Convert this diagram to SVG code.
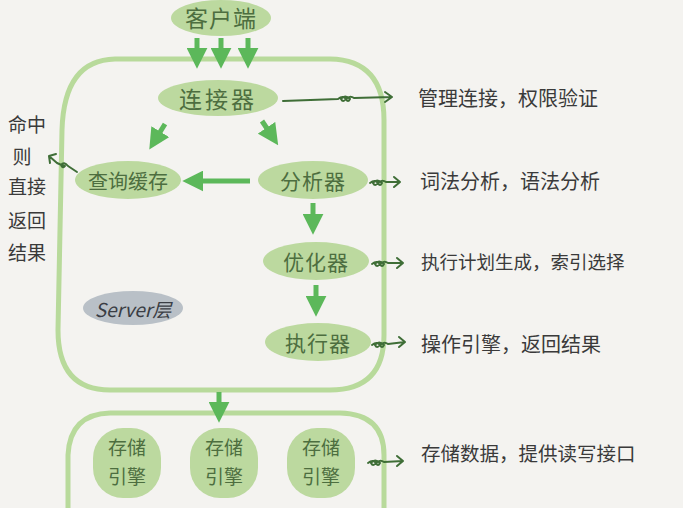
<svg xmlns="http://www.w3.org/2000/svg" width="683" height="508" viewBox="0 0 683 508">
<defs>
<style>
.node{fill:#bcd99f;}
.ntxt{font-family:"Noto Sans CJK SC","Noto Sans",sans-serif;fill:#4d6e3f;text-anchor:middle;dominant-baseline:central;}
.lbl{font-family:"Noto Sans CJK SC","Noto Sans",sans-serif;fill:#3a3a3a;font-size:20px;dominant-baseline:central;}
.frame{fill:none;stroke:#b8da9b;stroke-width:5;stroke-linejoin:round;}
.arr{stroke:#5cb85a;stroke-width:5;fill:none;marker-end:url(#ah);}
.sq{stroke:#3f6e37;stroke-width:2;fill:none;stroke-linecap:round;stroke-linejoin:round;}
</style>
<marker id="ah" viewBox="0 0 10 10" refX="3" refY="5" markerWidth="4.2" markerHeight="4.2" orient="auto" markerUnits="strokeWidth">
<path d="M0,0 L10,5 L0,10 Z" fill="#5cb85a"/>
</marker>
</defs>
<rect width="683" height="508" fill="#f4f3f0"/>

<g id="server-frame">
<path class="frame" d="M115,59 L330,59 Q384,60 384,120 L384,335 Q384,390 330,390 L110,390 Q58,390 58,330 L62,130 Q64,60 115,59 Z"/>
</g>
<g id="storage-frame">
<path class="frame" d="M110,413 L340,413 Q384,414 384,455 L384,520 M68,520 L68,455 Q70,414 110,413"/>
</g>

<g id="client"><ellipse class="node" cx="221" cy="18" rx="50" ry="18"/><text class="ntxt" x="221" y="17" font-size="23" letter-spacing="1">客户端</text></g>
<g id="connector"><ellipse class="node" cx="218" cy="98" rx="60" ry="18"/><text class="ntxt" x="218" y="98" font-size="23" letter-spacing="3">连接器</text></g>
<g id="cache"><ellipse class="node" cx="128" cy="180" rx="53" ry="19"/><text class="ntxt" x="128" y="180" font-size="20">查询缓存</text></g>
<g id="parser"><ellipse class="node" cx="313" cy="180" rx="55" ry="19"/><text class="ntxt" x="313" y="180" font-size="21" letter-spacing="1">分析器</text></g>
<g id="optimizer"><ellipse class="node" cx="316" cy="261" rx="53" ry="19"/><text class="ntxt" x="316" y="261" font-size="21" letter-spacing="1">优化器</text></g>
<g id="executor"><ellipse class="node" cx="318" cy="342" rx="53" ry="19"/><text class="ntxt" x="318" y="342" font-size="21" letter-spacing="1">执行器</text></g>
<g id="server-layer"><ellipse cx="133" cy="308" rx="50" ry="17" fill="#b9c0c7"/><text x="133" y="308" font-family="'Noto Sans CJK SC','Noto Sans',sans-serif" font-size="19" fill="#3a3d44" text-anchor="middle" dominant-baseline="central" font-style="italic">Server层</text></g>

<g id="engine1"><rect class="node" x="93" y="428" width="68" height="70" rx="30"/><text class="ntxt" x="127" y="446" font-size="19">存储</text><text class="ntxt" x="127" y="475" font-size="19">引擎</text></g>
<g id="engine2"><rect class="node" x="190" y="428" width="68" height="70" rx="30"/><text class="ntxt" x="224" y="446" font-size="19">存储</text><text class="ntxt" x="224" y="475" font-size="19">引擎</text></g>
<g id="engine3"><rect class="node" x="287" y="428" width="68" height="70" rx="30"/><text class="ntxt" x="321" y="446" font-size="19">存储</text><text class="ntxt" x="321" y="475" font-size="19">引擎</text></g>

<g id="labels">
<text class="lbl" x="418" y="97">管理连接，权限验证</text>
<text class="lbl" x="420" y="180">词法分析，语法分析</text>
<text class="lbl" x="421" y="261" style="font-size:18.5px">执行计划生成，索引选择</text>
<text class="lbl" x="421" y="343">操作引擎，返回结果</text>
<text class="lbl" x="421" y="452" style="font-size:19.5px">存储数据，提供读写接口</text>
<g font-family="'Noto Sans CJK SC','Noto Sans',sans-serif" font-size="19" fill="#3a3a3a" text-anchor="middle">
<text x="27" y="132">命中</text>
<text x="22" y="164">则</text>
<text x="27" y="194">直接</text>
<text x="27" y="228">返回</text>
<text x="27" y="260">结果</text>
</g>
</g>

<g id="connectors">
<path class="arr" d="M197,38 L197,54"/>
<path class="arr" d="M221,38 L221,54"/>
<path class="arr" d="M248,38 L248,54"/>
<path class="arr" d="M165,124 L157,137"/>
<path class="arr" d="M262,121 L270,133"/>
<path class="arr" d="M250,181 L197,181"/>
<path class="arr" d="M313,203 L313,220"/>
<path class="arr" d="M316,285 L316,302"/>
<path class="arr" d="M219,392 L219,408"/>

<path class="sq" d="M283,101 L338,99 q5,-4 8,0 q-3,4 -5,0 q4,-5 9,0 q-2,4 -4,0 q4,-4 8,-1 L392,97 M385,92 L392,97 L385,102"/>
<path class="sq" d="M370,183 q5,-4 8,0 q-3,4 -5,0 q4,-5 9,0 q-2,4 -4,0 q4,-4 8,-1 L400,182 M394,177 L400,182 L394,187"/>
<path class="sq" d="M372,264 q5,-4 8,0 q-3,4 -5,0 q4,-5 9,0 q-2,4 -4,0 q4,-4 8,-1 L403,263 M397,258 L403,263 L397,268"/>
<path class="sq" d="M372,345 q5,-4 8,0 q-3,4 -5,0 q4,-5 9,0 q-2,4 -4,0 q4,-4 8,-1 L405,342 M399,337 L405,342 L399,347"/>
<path class="sq" d="M368,463 q5,-4 8,0 q-3,4 -5,0 q4,-5 9,0 q-2,4 -4,0 q4,-4 8,-1 L403,461 M397,456 L403,461 L397,466"/>
<path class="sq" d="M77,172 L68,166 q-4,-5 -7,-1 q2,4 4,1 q-4,-1 -8,-3 L49,156 M50,163 L49,156 L56,154"/>
</g>
</svg>
